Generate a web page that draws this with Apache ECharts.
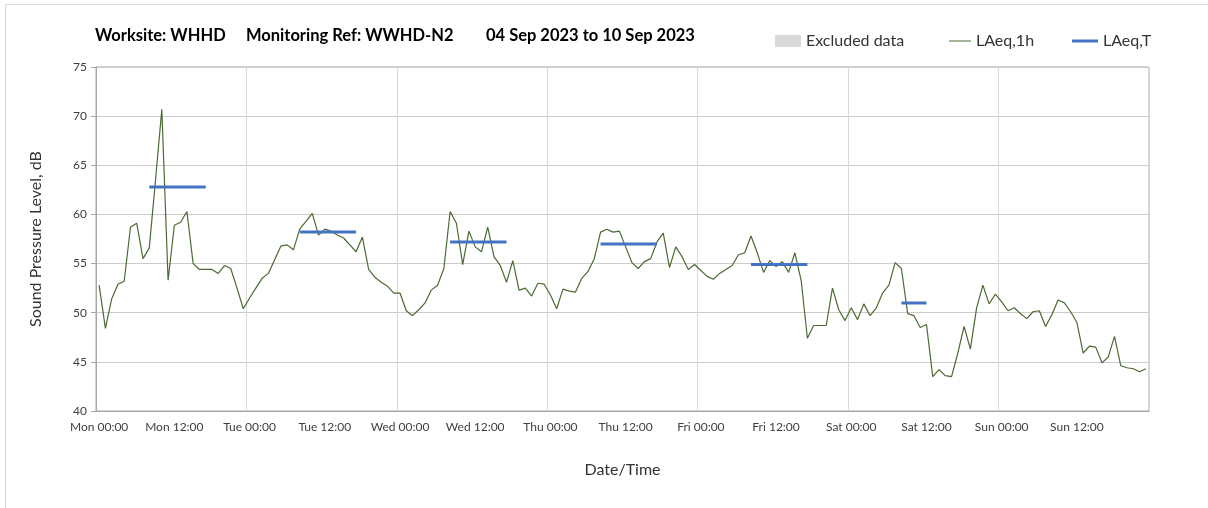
<!DOCTYPE html>
<html>
<head>
<meta charset="utf-8">
<script src="https://cdn.jsdelivr.net/npm/echarts@6/dist/echarts.min.js"></script>
<style>
  html, body { margin: 0; padding: 0; background: #fff; }
  #chart { width: 1208px; height: 508px; }
</style>
</head>
<body>
<div id="chart"></div>
<script>
// tick label parts
const days = ['Mon', 'Tue', 'Wed', 'Thu', 'Fri', 'Sat', 'Sun'];

// hourly LAeq,1h, Mon 00:00 .. Sun 23:00
const laeq1h = [
  52.8, 48.4, 51.4, 52.9, 53.2, 58.7, 59.1, 55.5, 56.6, 63.5, 70.7, 53.3, 58.9, 59.2, 60.3, 55.0, 54.4, 54.4, 54.4, 54.0, 54.8, 54.5, 52.5, 50.4,
  51.5, 52.5, 53.5, 54.0, 55.4, 56.8, 56.9, 56.4, 58.5, 59.3, 60.1, 57.9, 58.5, 58.3, 57.9, 57.6, 56.9, 56.2, 57.7, 54.4, 53.6, 53.1, 52.7, 52.0,
  52.0, 50.2, 49.7, 50.3, 51.0, 52.3, 52.8, 54.5, 60.3, 59.1, 54.9, 58.3, 56.7, 56.2, 58.7, 55.7, 54.8, 53.1, 55.3, 52.3, 52.5, 51.7, 53.0, 52.9,
  51.8, 50.4, 52.4, 52.2, 52.1, 53.5, 54.2, 55.5, 58.2, 58.5, 58.2, 58.3, 56.7, 55.1, 54.5, 55.2, 55.5, 57.2, 58.1, 54.6, 56.7, 55.7, 54.4, 54.9,
  54.3, 53.7, 53.4, 54.0, 54.4, 54.8, 55.9, 56.1, 57.8, 56.1, 54.1, 55.3, 54.7, 55.2, 54.1, 56.1, 53.3, 47.4, 48.7, 48.7, 48.7, 52.5, 50.3, 49.2,
  50.5, 49.3, 50.9, 49.7, 50.5, 52.0, 52.8, 55.1, 54.5, 49.9, 49.7, 48.5, 48.8, 43.5, 44.2, 43.6, 43.5, 45.9, 48.6, 46.3, 50.5, 52.8, 50.9, 51.9,
  51.1, 50.2, 50.5, 49.9, 49.4, 50.1, 50.2, 48.6, 49.8, 51.3, 51.0, 50.1, 49.0, 45.9, 46.6, 46.5, 44.9, 45.5, 47.6, 44.6, 44.4, 44.3, 44.0, 44.3
];

// LAeq,T per day (Mon..Sat) and the hours it covers
const laeqT = [62.8, 58.2, 57.2, 57.0, 54.9, 51.0];
const periodStart = [8, 8, 8, 8, 8, 8];
const periodEnd = [17, 17, 17, 17, 17, 12];

const categories = [];
days.forEach(d => {
  for (let h = 0; h < 24; h++) {
    categories.push(d + ' ' + (h < 10 ? '0' + h : h) + ':00');
  }
});

const laeqTData = categories.map(() => null);
laeqT.forEach((v, i) => {
  for (let h = periodStart[i]; h <= periodEnd[i]; h++) {
    laeqTData[i * 24 + h] = v;
  }
});

const font = 'Lato, "Open Sans", sans-serif';
const titleStyle = { fontSize: 16.5, fontWeight: 'bold', color: '#000', fontFamily: font };
const legendText = { fontSize: 16, color: '#333', fontFamily: font };
const chart = echarts.init(document.getElementById('chart'));

chart.setOption({
  animation: false,
  textStyle: { fontFamily: font },
  graphic: [{
    type: 'rect',
    shape: { x: 5.5, y: 4.5, width: 1300, height: 600 },
    style: { fill: 'none', stroke: '#d9d9d9', lineWidth: 1 },
    silent: true
  }],
  title: [
    { text: 'Worksite: WHHD', left: 95, top: 27, padding: 0, textStyle: titleStyle },
    { text: 'Monitoring Ref: WWHD-N2', left: 246, top: 27, padding: 0, textStyle: titleStyle },
    { text: '04 Sep 2023 to 10 Sep 2023', left: 486, top: 27, padding: 0, textStyle: titleStyle }
  ],
  legend: [
    {
      data: ['Excluded data'], left: 775, top: 33, padding: 0, icon: 'rect',
      itemWidth: 26, itemHeight: 12, itemGap: 0, textStyle: legendText
    },
    {
      data: ['LAeq,1h'], left: 949, top: 33, padding: 0, icon: 'rect',
      itemWidth: 22, itemHeight: 1, itemGap: 0, textStyle: legendText
    },
    {
      data: ['LAeq,T'], left: 1072, top: 33, padding: 0, icon: 'rect',
      itemWidth: 26, itemHeight: 3, itemGap: 0, textStyle: legendText
    }
  ],
  grid: {
    left: 96, right: 59, top: 67, bottom: 97,
    show: true, borderColor: '#a6a6a6', borderWidth: 1
  },
  xAxis: {
    type: 'category',
    data: categories,
    boundaryGap: true,
    name: 'Date/Time',
    nameLocation: 'middle',
    nameGap: 51,
    nameTextStyle: { fontSize: 16, color: '#333' },
    axisLine: { lineStyle: { color: '#a6a6a6' } },
    axisTick: { interval: 11, length: 5, lineStyle: { color: '#a6a6a6' } },
    axisLabel: { interval: 11, fontSize: 12, color: '#404040', margin: 10 },
    splitLine: { show: true, interval: 23, lineStyle: { color: '#d9d9d9' } }
  },
  yAxis: {
    type: 'value',
    min: 40,
    max: 75,
    interval: 5,
    name: 'Sound Pressure Level, dB',
    nameLocation: 'middle',
    nameGap: 52,
    nameTextStyle: { fontSize: 16, color: '#333' },
    axisLine: { show: true, lineStyle: { color: '#a6a6a6' } },
    axisTick: { show: true, length: 5, lineStyle: { color: '#a6a6a6' } },
    axisLabel: { fontSize: 12, color: '#404040', margin: 9 },
    splitLine: { lineStyle: { color: '#cccccc' } }
  },
  series: [
    {
      name: 'Excluded data',
      type: 'bar',
      data: [],
      itemStyle: { color: '#d9d9d9' }
    },
    {
      name: 'LAeq,1h',
      type: 'line',
      data: laeq1h,
      symbol: 'none',
      itemStyle: { color: '#4a6a32' },
      lineStyle: { color: '#4a6a32', width: 1.2 },
      z: 3
    },
    {
      name: 'LAeq,T',
      type: 'line',
      data: laeqTData,
      symbol: 'none',
      connectNulls: false,
      itemStyle: { color: '#4472c4' },
      lineStyle: { color: '#4472c4', width: 3 },
      z: 4
    }
  ]
});
</script>
</body>
</html>
